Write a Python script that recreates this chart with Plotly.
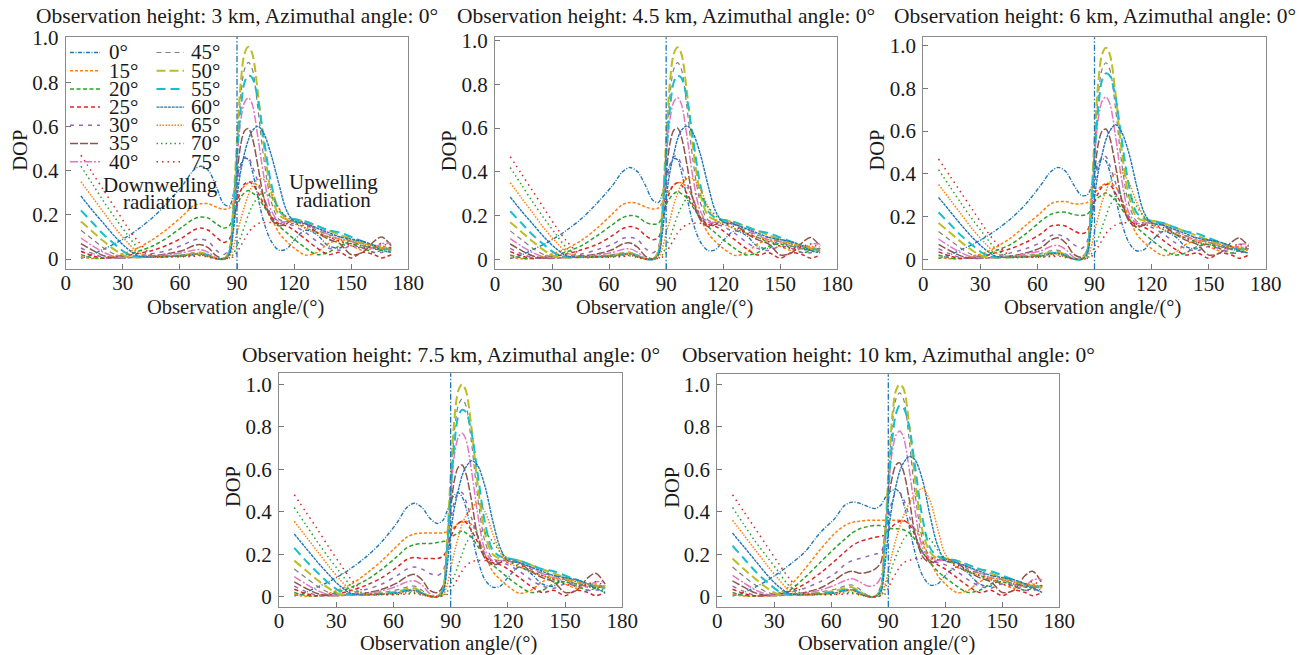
import plotly.graph_objects as go

W, H = 1303, 655
FONT = "Liberation Serif"
TXT = "#1a1a1a"

# ---------------- data ----------------
obs_angle = [8, 14, 20, 26, 32, 38, 46, 54, 62, 67, 71, 75, 79, 83, 86, 88, 90, 92, 94, 96,
             98, 101, 104, 108, 112, 116, 120, 126, 132, 138, 144, 150, 156, 162, 166, 171]

zenith_labels = ["0°", "15°", "20°", "25°", "30°", "35°", "40°",
                 "45°", "50°", "55°", "60°", "65°", "70°", "75°"]

heights = ["3", "4.5", "6", "7.5", "10"]

dop_3km = [
    [0.003,0.02,0.045,0.07,0.10,0.135,0.19,0.26,0.34,0.40,0.42,0.40,0.33,0.25,0.24,0.29,0.37,0.43,0.455,0.45,0.40,0.28,0.17,0.08,0.04,0.045,0.085,0.13,0.11,0.06,0.05,0.085,0.07,0.045,0.045,0.05],
    [0.01,0.002,0.005,0.015,0.03,0.05,0.09,0.14,0.20,0.24,0.25,0.25,0.235,0.225,0.23,0.25,0.28,0.31,0.33,0.345,0.35,0.33,0.28,0.19,0.12,0.08,0.05,0.018,0.03,0.07,0.085,0.06,0.04,0.05,0.06,0.04],
    [0.02,0.006,0.004,0.01,0.02,0.035,0.06,0.10,0.15,0.18,0.19,0.185,0.16,0.14,0.15,0.19,0.24,0.28,0.30,0.31,0.30,0.28,0.24,0.19,0.15,0.12,0.09,0.05,0.02,0.03,0.06,0.07,0.05,0.03,0.04,0.05],
    [0.035,0.015,0.004,0.008,0.015,0.025,0.04,0.065,0.10,0.13,0.14,0.13,0.10,0.075,0.09,0.16,0.25,0.31,0.34,0.35,0.34,0.30,0.25,0.19,0.16,0.15,0.13,0.09,0.05,0.02,0.03,0.005,0.03,0.02,0.005,0.02],
    [0.05,0.025,0.007,0.005,0.01,0.015,0.025,0.04,0.065,0.085,0.09,0.08,0.04,0.02,0.05,0.18,0.33,0.42,0.46,0.46,0.42,0.35,0.28,0.20,0.17,0.16,0.15,0.12,0.08,0.05,0.04,0.06,0.05,0.03,0.03,0.04],
    [0.07,0.04,0.015,0.005,0.005,0.01,0.015,0.025,0.04,0.06,0.065,0.05,0.015,0.003,0.03,0.18,0.38,0.52,0.58,0.59,0.55,0.42,0.28,0.18,0.15,0.16,0.18,0.16,0.12,0.09,0.07,0.02,0.03,0.08,0.10,0.06],
    [0.095,0.06,0.03,0.01,0.006,0.008,0.012,0.02,0.03,0.04,0.042,0.03,0.005,0.0,0.03,0.20,0.45,0.63,0.71,0.73,0.70,0.55,0.38,0.22,0.17,0.17,0.17,0.16,0.14,0.11,0.09,0.08,0.06,0.05,0.07,0.07],
    [0.13,0.09,0.05,0.02,0.008,0.006,0.01,0.015,0.02,0.028,0.03,0.02,0.002,0.0,0.04,0.22,0.50,0.74,0.86,0.89,0.86,0.68,0.46,0.26,0.18,0.17,0.17,0.16,0.13,0.11,0.10,0.08,0.06,0.05,0.05,0.05],
    [0.17,0.125,0.08,0.04,0.012,0.008,0.01,0.012,0.018,0.025,0.028,0.018,0.002,0.0,0.04,0.24,0.54,0.80,0.93,0.96,0.93,0.75,0.52,0.30,0.20,0.18,0.18,0.17,0.15,0.13,0.11,0.09,0.07,0.06,0.05,0.05],
    [0.22,0.165,0.11,0.065,0.025,0.01,0.01,0.012,0.016,0.022,0.025,0.015,0.002,0.0,0.03,0.20,0.46,0.68,0.80,0.83,0.82,0.72,0.55,0.34,0.22,0.19,0.18,0.17,0.15,0.13,0.12,0.10,0.08,0.06,0.05,0.04],
    [0.285,0.22,0.16,0.10,0.05,0.015,0.01,0.012,0.015,0.02,0.022,0.012,0.002,0.0,0.02,0.12,0.28,0.40,0.48,0.54,0.58,0.60,0.57,0.47,0.34,0.22,0.17,0.16,0.14,0.12,0.10,0.09,0.08,0.06,0.04,0.03],
    [0.35,0.28,0.21,0.14,0.08,0.03,0.01,0.012,0.015,0.02,0.022,0.012,0.002,0.0,0.01,0.05,0.12,0.18,0.24,0.29,0.33,0.36,0.36,0.31,0.23,0.18,0.16,0.14,0.12,0.10,0.09,0.08,0.07,0.06,0.05,0.04],
    [0.42,0.34,0.26,0.185,0.115,0.05,0.01,0.01,0.012,0.015,0.018,0.01,0.002,0.0,0.005,0.02,0.06,0.10,0.15,0.20,0.24,0.28,0.30,0.28,0.23,0.19,0.17,0.14,0.12,0.10,0.08,0.07,0.06,0.05,0.04,0.03],
    [0.47,0.39,0.31,0.23,0.15,0.08,0.015,0.01,0.01,0.012,0.015,0.008,0.002,0.0,0.005,0.01,0.03,0.06,0.09,0.12,0.14,0.16,0.165,0.165,0.16,0.16,0.16,0.15,0.12,0.10,0.08,0.06,0.05,0.06,0.07,0.05],
]

dop_4p5km = [
    [0.003,0.02,0.045,0.07,0.10,0.135,0.19,0.26,0.34,0.40,0.42,0.40,0.34,0.27,0.26,0.30,0.38,0.43,0.46,0.455,0.40,0.28,0.17,0.08,0.04,0.045,0.085,0.13,0.11,0.06,0.05,0.09,0.07,0.045,0.045,0.05],
    [0.01,0.002,0.005,0.015,0.03,0.05,0.09,0.145,0.21,0.25,0.26,0.255,0.24,0.23,0.235,0.26,0.29,0.32,0.34,0.35,0.35,0.33,0.28,0.19,0.12,0.08,0.05,0.018,0.03,0.07,0.085,0.06,0.04,0.05,0.06,0.04],
    [0.02,0.006,0.004,0.01,0.02,0.035,0.065,0.11,0.16,0.19,0.20,0.195,0.17,0.16,0.165,0.20,0.25,0.28,0.30,0.31,0.30,0.28,0.24,0.19,0.15,0.12,0.09,0.05,0.02,0.03,0.06,0.07,0.05,0.03,0.04,0.05],
    [0.035,0.015,0.004,0.008,0.015,0.025,0.045,0.07,0.11,0.14,0.15,0.14,0.11,0.09,0.10,0.17,0.26,0.31,0.34,0.35,0.34,0.30,0.25,0.19,0.16,0.15,0.13,0.09,0.05,0.02,0.03,0.005,0.03,0.02,0.005,0.02],
    [0.05,0.025,0.007,0.005,0.01,0.015,0.025,0.045,0.07,0.095,0.10,0.09,0.05,0.03,0.06,0.19,0.34,0.43,0.47,0.47,0.43,0.35,0.28,0.20,0.17,0.16,0.15,0.12,0.08,0.05,0.04,0.06,0.05,0.03,0.03,0.04],
    [0.07,0.04,0.015,0.005,0.005,0.01,0.015,0.025,0.045,0.07,0.075,0.055,0.015,0.003,0.03,0.19,0.39,0.53,0.59,0.60,0.56,0.43,0.28,0.18,0.15,0.16,0.18,0.16,0.12,0.09,0.07,0.02,0.03,0.08,0.10,0.06],
    [0.095,0.06,0.03,0.01,0.006,0.008,0.012,0.02,0.032,0.045,0.048,0.032,0.005,0.0,0.03,0.20,0.46,0.64,0.72,0.74,0.71,0.56,0.38,0.22,0.17,0.17,0.17,0.16,0.14,0.11,0.09,0.08,0.06,0.05,0.07,0.07],
    [0.13,0.09,0.05,0.02,0.008,0.006,0.01,0.015,0.022,0.03,0.032,0.02,0.002,0.0,0.04,0.22,0.51,0.75,0.87,0.90,0.87,0.69,0.46,0.26,0.18,0.17,0.17,0.16,0.13,0.11,0.10,0.08,0.06,0.05,0.05,0.05],
    [0.17,0.125,0.08,0.04,0.012,0.008,0.01,0.012,0.02,0.027,0.03,0.018,0.002,0.0,0.04,0.24,0.55,0.81,0.94,0.97,0.94,0.76,0.52,0.30,0.20,0.18,0.18,0.17,0.15,0.13,0.11,0.09,0.07,0.06,0.05,0.05],
    [0.22,0.165,0.11,0.065,0.025,0.01,0.01,0.012,0.016,0.024,0.027,0.015,0.002,0.0,0.03,0.20,0.47,0.69,0.81,0.84,0.83,0.73,0.56,0.34,0.22,0.19,0.18,0.17,0.15,0.13,0.12,0.10,0.08,0.06,0.05,0.04],
    [0.285,0.22,0.16,0.10,0.05,0.015,0.01,0.012,0.015,0.02,0.024,0.012,0.002,0.0,0.02,0.12,0.28,0.40,0.48,0.55,0.59,0.61,0.58,0.48,0.34,0.22,0.17,0.16,0.14,0.12,0.10,0.09,0.08,0.06,0.04,0.03],
    [0.35,0.28,0.21,0.14,0.08,0.03,0.01,0.012,0.015,0.02,0.022,0.012,0.002,0.0,0.01,0.05,0.12,0.18,0.25,0.30,0.34,0.37,0.37,0.32,0.24,0.18,0.16,0.14,0.12,0.10,0.09,0.08,0.07,0.06,0.05,0.04],
    [0.42,0.34,0.26,0.185,0.115,0.05,0.01,0.01,0.012,0.015,0.018,0.01,0.002,0.0,0.005,0.02,0.06,0.10,0.15,0.20,0.24,0.28,0.30,0.29,0.24,0.20,0.17,0.14,0.12,0.10,0.08,0.07,0.06,0.05,0.04,0.03],
    [0.47,0.39,0.31,0.23,0.15,0.08,0.015,0.01,0.01,0.012,0.015,0.008,0.002,0.0,0.005,0.01,0.03,0.06,0.09,0.12,0.14,0.16,0.165,0.165,0.16,0.16,0.16,0.15,0.12,0.10,0.08,0.06,0.05,0.06,0.07,0.05],
]

dop_6km = [
    [0.003,0.02,0.045,0.07,0.10,0.135,0.19,0.26,0.35,0.41,0.43,0.41,0.35,0.30,0.30,0.33,0.40,0.45,0.47,0.46,0.41,0.29,0.18,0.08,0.04,0.045,0.085,0.13,0.11,0.06,0.05,0.09,0.07,0.045,0.045,0.05],
    [0.01,0.002,0.005,0.015,0.03,0.055,0.10,0.16,0.22,0.26,0.27,0.27,0.26,0.26,0.265,0.28,0.31,0.33,0.345,0.355,0.355,0.34,0.29,0.20,0.12,0.08,0.05,0.018,0.03,0.07,0.085,0.06,0.04,0.05,0.06,0.04],
    [0.02,0.006,0.004,0.01,0.02,0.04,0.07,0.12,0.18,0.21,0.22,0.22,0.21,0.205,0.21,0.23,0.27,0.29,0.30,0.31,0.30,0.28,0.24,0.19,0.15,0.12,0.09,0.05,0.02,0.03,0.06,0.07,0.05,0.03,0.04,0.05],
    [0.035,0.015,0.004,0.008,0.015,0.03,0.05,0.08,0.12,0.155,0.16,0.155,0.135,0.12,0.13,0.19,0.27,0.31,0.34,0.35,0.35,0.31,0.26,0.19,0.16,0.15,0.13,0.09,0.05,0.02,0.03,0.005,0.03,0.02,0.005,0.02],
    [0.05,0.025,0.007,0.005,0.01,0.015,0.03,0.05,0.08,0.11,0.115,0.10,0.07,0.05,0.08,0.20,0.35,0.44,0.48,0.48,0.44,0.36,0.28,0.20,0.17,0.16,0.15,0.12,0.08,0.05,0.04,0.06,0.05,0.03,0.03,0.04],
    [0.07,0.04,0.015,0.005,0.005,0.01,0.015,0.03,0.055,0.09,0.10,0.075,0.025,0.01,0.04,0.20,0.40,0.54,0.60,0.61,0.57,0.44,0.29,0.18,0.15,0.16,0.18,0.16,0.12,0.09,0.07,0.02,0.03,0.08,0.10,0.06],
    [0.095,0.06,0.03,0.01,0.006,0.008,0.012,0.025,0.04,0.06,0.065,0.045,0.01,0.0,0.035,0.21,0.47,0.66,0.74,0.76,0.73,0.58,0.39,0.22,0.17,0.17,0.17,0.16,0.14,0.11,0.09,0.08,0.06,0.05,0.07,0.07],
    [0.13,0.09,0.05,0.02,0.008,0.006,0.01,0.018,0.028,0.04,0.042,0.025,0.003,0.0,0.04,0.23,0.52,0.77,0.89,0.92,0.89,0.71,0.47,0.26,0.18,0.17,0.17,0.16,0.13,0.11,0.10,0.08,0.06,0.05,0.05,0.05],
    [0.17,0.125,0.08,0.04,0.012,0.008,0.01,0.015,0.022,0.032,0.035,0.02,0.002,0.0,0.04,0.25,0.56,0.83,0.96,0.99,0.96,0.78,0.53,0.30,0.20,0.18,0.18,0.17,0.15,0.13,0.11,0.09,0.07,0.06,0.05,0.05],
    [0.22,0.165,0.11,0.065,0.025,0.01,0.01,0.013,0.018,0.028,0.03,0.017,0.002,0.0,0.03,0.21,0.48,0.71,0.84,0.87,0.86,0.76,0.58,0.35,0.22,0.19,0.18,0.17,0.15,0.13,0.12,0.10,0.08,0.06,0.05,0.04],
    [0.29,0.225,0.16,0.10,0.05,0.015,0.01,0.012,0.016,0.025,0.028,0.014,0.002,0.0,0.02,0.13,0.29,0.41,0.49,0.56,0.60,0.63,0.60,0.50,0.35,0.22,0.17,0.16,0.14,0.12,0.10,0.09,0.08,0.06,0.04,0.03],
    [0.35,0.28,0.21,0.14,0.08,0.03,0.01,0.012,0.015,0.022,0.024,0.012,0.002,0.0,0.01,0.05,0.13,0.20,0.27,0.32,0.36,0.40,0.41,0.36,0.27,0.20,0.16,0.14,0.12,0.10,0.09,0.08,0.07,0.06,0.05,0.04],
    [0.42,0.34,0.26,0.185,0.115,0.05,0.01,0.01,0.012,0.016,0.02,0.01,0.002,0.0,0.005,0.02,0.06,0.10,0.15,0.20,0.25,0.29,0.31,0.30,0.25,0.20,0.17,0.14,0.12,0.10,0.08,0.07,0.06,0.05,0.04,0.03],
    [0.47,0.39,0.31,0.23,0.15,0.08,0.015,0.01,0.01,0.012,0.015,0.008,0.002,0.0,0.005,0.01,0.03,0.06,0.09,0.12,0.14,0.16,0.17,0.17,0.165,0.16,0.16,0.15,0.12,0.10,0.08,0.06,0.05,0.06,0.07,0.05],
]

dop_7p5km = [
    [0.003,0.02,0.045,0.07,0.10,0.135,0.19,0.26,0.35,0.42,0.44,0.42,0.37,0.345,0.36,0.40,0.45,0.48,0.49,0.47,0.42,0.30,0.18,0.08,0.045,0.05,0.09,0.14,0.11,0.06,0.05,0.09,0.07,0.045,0.045,0.05],
    [0.01,0.002,0.005,0.015,0.035,0.06,0.11,0.17,0.24,0.28,0.295,0.30,0.30,0.30,0.30,0.305,0.31,0.33,0.345,0.355,0.355,0.34,0.29,0.20,0.12,0.08,0.05,0.016,0.03,0.07,0.085,0.06,0.04,0.05,0.06,0.04],
    [0.02,0.006,0.004,0.01,0.025,0.045,0.08,0.13,0.19,0.23,0.245,0.25,0.25,0.255,0.26,0.265,0.28,0.29,0.30,0.31,0.30,0.28,0.24,0.19,0.15,0.12,0.09,0.05,0.02,0.03,0.06,0.07,0.05,0.03,0.04,0.05],
    [0.035,0.015,0.004,0.008,0.015,0.03,0.055,0.09,0.14,0.175,0.185,0.18,0.18,0.18,0.19,0.22,0.28,0.32,0.345,0.355,0.35,0.31,0.26,0.19,0.16,0.15,0.13,0.09,0.05,0.02,0.03,0.005,0.03,0.02,0.005,0.02],
    [0.05,0.025,0.007,0.005,0.01,0.018,0.035,0.06,0.10,0.13,0.14,0.13,0.11,0.10,0.12,0.22,0.36,0.45,0.49,0.49,0.45,0.37,0.29,0.20,0.17,0.16,0.15,0.12,0.08,0.05,0.04,0.06,0.05,0.03,0.03,0.04],
    [0.07,0.04,0.015,0.005,0.005,0.01,0.018,0.035,0.065,0.095,0.105,0.08,0.03,0.02,0.05,0.21,0.41,0.55,0.61,0.62,0.58,0.45,0.29,0.18,0.15,0.16,0.18,0.16,0.12,0.09,0.07,0.02,0.03,0.09,0.11,0.06],
    [0.095,0.06,0.03,0.01,0.006,0.008,0.014,0.028,0.05,0.07,0.075,0.055,0.015,0.005,0.04,0.22,0.48,0.67,0.75,0.77,0.74,0.59,0.40,0.22,0.17,0.17,0.17,0.16,0.14,0.11,0.09,0.08,0.06,0.05,0.07,0.07],
    [0.13,0.09,0.05,0.02,0.008,0.006,0.01,0.02,0.032,0.045,0.05,0.03,0.003,0.0,0.04,0.23,0.53,0.78,0.90,0.93,0.90,0.72,0.48,0.26,0.18,0.17,0.17,0.16,0.13,0.11,0.10,0.08,0.06,0.05,0.05,0.05],
    [0.17,0.125,0.08,0.04,0.012,0.008,0.01,0.016,0.025,0.036,0.04,0.022,0.002,0.0,0.04,0.25,0.57,0.84,0.97,1.00,0.97,0.79,0.54,0.30,0.20,0.18,0.18,0.17,0.15,0.13,0.11,0.09,0.07,0.06,0.05,0.05],
    [0.23,0.17,0.115,0.065,0.025,0.01,0.01,0.014,0.02,0.03,0.033,0.018,0.002,0.0,0.03,0.21,0.49,0.72,0.85,0.88,0.87,0.77,0.59,0.35,0.22,0.19,0.18,0.17,0.15,0.13,0.12,0.10,0.08,0.06,0.05,0.04],
    [0.295,0.23,0.165,0.105,0.05,0.015,0.01,0.012,0.018,0.027,0.03,0.015,0.002,0.0,0.02,0.13,0.30,0.42,0.50,0.57,0.61,0.64,0.62,0.52,0.36,0.23,0.17,0.16,0.14,0.12,0.10,0.09,0.08,0.06,0.04,0.02],
    [0.355,0.285,0.215,0.145,0.08,0.03,0.01,0.012,0.015,0.024,0.026,0.012,0.002,0.0,0.01,0.05,0.13,0.21,0.28,0.34,0.38,0.42,0.44,0.40,0.30,0.21,0.16,0.14,0.12,0.10,0.09,0.08,0.07,0.06,0.05,0.04],
    [0.42,0.34,0.26,0.185,0.115,0.05,0.01,0.01,0.012,0.018,0.02,0.01,0.002,0.0,0.005,0.02,0.06,0.10,0.15,0.20,0.25,0.29,0.31,0.30,0.26,0.21,0.18,0.14,0.12,0.10,0.08,0.07,0.06,0.05,0.04,0.03],
    [0.48,0.40,0.32,0.235,0.155,0.08,0.015,0.01,0.01,0.012,0.015,0.008,0.002,0.0,0.005,0.01,0.03,0.06,0.09,0.12,0.145,0.165,0.17,0.17,0.17,0.165,0.16,0.15,0.12,0.10,0.08,0.06,0.05,0.06,0.07,0.05],
]

dop_10km = [
    [0.003,0.02,0.045,0.075,0.11,0.15,0.21,0.30,0.37,0.43,0.445,0.44,0.425,0.415,0.43,0.46,0.49,0.50,0.505,0.49,0.44,0.33,0.21,0.10,0.055,0.06,0.10,0.14,0.11,0.06,0.05,0.09,0.07,0.045,0.045,0.05],
    [0.01,0.003,0.002,0.005,0.015,0.05,0.13,0.22,0.30,0.335,0.35,0.355,0.36,0.36,0.36,0.36,0.36,0.36,0.36,0.36,0.355,0.345,0.32,0.25,0.17,0.10,0.06,0.02,0.03,0.07,0.085,0.06,0.04,0.05,0.06,0.04],
    [0.02,0.006,0.004,0.008,0.015,0.03,0.09,0.16,0.23,0.27,0.30,0.32,0.33,0.335,0.335,0.33,0.325,0.32,0.32,0.32,0.315,0.30,0.27,0.21,0.16,0.12,0.09,0.05,0.02,0.03,0.06,0.07,0.05,0.03,0.04,0.05],
    [0.035,0.015,0.004,0.006,0.012,0.025,0.06,0.11,0.17,0.21,0.24,0.26,0.27,0.28,0.285,0.29,0.31,0.33,0.345,0.355,0.36,0.34,0.29,0.21,0.17,0.15,0.13,0.09,0.05,0.02,0.03,0.005,0.03,0.02,0.005,0.02],
    [0.05,0.025,0.007,0.005,0.01,0.02,0.04,0.07,0.11,0.15,0.17,0.18,0.19,0.20,0.21,0.25,0.36,0.45,0.49,0.49,0.46,0.38,0.30,0.21,0.17,0.16,0.15,0.12,0.08,0.05,0.04,0.06,0.05,0.03,0.03,0.04],
    [0.075,0.045,0.018,0.006,0.005,0.01,0.02,0.04,0.08,0.11,0.12,0.11,0.115,0.13,0.16,0.28,0.45,0.56,0.62,0.63,0.59,0.46,0.30,0.19,0.16,0.17,0.18,0.16,0.12,0.09,0.07,0.02,0.03,0.10,0.12,0.06],
    [0.10,0.065,0.032,0.012,0.006,0.008,0.016,0.03,0.055,0.075,0.085,0.07,0.05,0.055,0.09,0.25,0.50,0.68,0.76,0.78,0.75,0.60,0.41,0.23,0.18,0.17,0.17,0.16,0.14,0.11,0.09,0.08,0.06,0.05,0.08,0.08],
    [0.14,0.095,0.055,0.022,0.008,0.006,0.012,0.022,0.035,0.05,0.055,0.035,0.008,0.003,0.05,0.25,0.55,0.80,0.93,0.96,0.93,0.74,0.49,0.27,0.19,0.18,0.17,0.16,0.13,0.11,0.10,0.08,0.06,0.05,0.05,0.05],
    [0.18,0.13,0.085,0.042,0.012,0.008,0.01,0.018,0.028,0.04,0.045,0.025,0.003,0.0,0.04,0.25,0.57,0.84,0.97,1.00,0.98,0.81,0.56,0.31,0.21,0.18,0.18,0.17,0.15,0.13,0.11,0.09,0.07,0.06,0.05,0.05],
    [0.24,0.18,0.12,0.07,0.028,0.01,0.01,0.015,0.022,0.032,0.036,0.02,0.002,0.0,0.03,0.21,0.49,0.73,0.86,0.90,0.89,0.80,0.62,0.37,0.23,0.19,0.18,0.17,0.15,0.13,0.12,0.10,0.08,0.06,0.05,0.04],
    [0.30,0.235,0.17,0.105,0.05,0.015,0.01,0.012,0.018,0.028,0.032,0.015,0.002,0.0,0.02,0.13,0.30,0.43,0.52,0.59,0.63,0.66,0.645,0.55,0.38,0.24,0.17,0.16,0.14,0.12,0.10,0.09,0.08,0.06,0.04,0.02],
    [0.36,0.29,0.22,0.15,0.085,0.03,0.01,0.012,0.015,0.025,0.028,0.012,0.002,0.0,0.01,0.05,0.12,0.20,0.27,0.33,0.38,0.44,0.48,0.51,0.45,0.32,0.20,0.14,0.12,0.10,0.09,0.08,0.07,0.06,0.05,0.04],
    [0.42,0.34,0.26,0.19,0.12,0.05,0.01,0.01,0.012,0.018,0.02,0.01,0.002,0.0,0.005,0.03,0.09,0.14,0.19,0.23,0.27,0.30,0.31,0.30,0.27,0.22,0.18,0.14,0.12,0.10,0.08,0.07,0.06,0.05,0.04,0.03],
    [0.48,0.40,0.32,0.24,0.16,0.085,0.015,0.01,0.01,0.012,0.015,0.008,0.002,0.0,0.005,0.01,0.04,0.08,0.11,0.14,0.16,0.17,0.18,0.18,0.18,0.175,0.17,0.15,0.12,0.10,0.08,0.06,0.05,0.06,0.07,0.05],
]

x_ticks = [0, 30, 60, 90, 120, 150, 180]
y_ticks = [0, 0.2, 0.4, 0.6, 0.8, 1.0]
y_ticktext = ["0", "0.2", "0.4", "0.6", "0.8", "1.0"]

# ---------------- styles ----------------
colors = ["#1f77b4", "#ff7f0e", "#2ca02c", "#d62728", "#9467bd", "#8c564b", "#e377c2",
          "#7f7f7f", "#bcbd22", "#17becf", "#1f77b4", "#ff7f0e", "#2ca02c", "#d62728"]
dashes = ["4px,1.5px,1px,1.5px", "3px,2px", "4px,2.5px", "4px,3px", "4px,5px", "8px,2px",
          "8px,2px,2px,2px", "5px,4px", "9px,4px", "9px,5px", "3px,0.8px", "1.5px,1.5px",
          "1.5px,3px", "1.5px,4px"]
widths = [1.4, 1.5, 1.5, 1.5, 1.5, 1.5, 1.5, 1.2, 2.0, 2.0, 1.4, 1.5, 1.5, 1.5]

# panel geometry in pixels: (x left, x right), (y top, y bottom), y range
panel_data = [dop_3km, dop_4p5km, dop_6km, dop_7p5km, dop_10km]
panel_px = [
    ((65.7, 408.3), (37.0, 269.0), (-0.0452, 1.0045)),
    ((495.0, 837.3), (37.3, 269.3), (-0.0457, 1.0155)),
    ((923.3, 1265.7), (37.3, 269.3), (-0.0468, 1.039)),
    ((279.0, 622.3), (373.3, 606.7), (-0.047, 1.0518)),
    ((717.3, 1059.3), (374.3, 606.7), (-0.047, 1.047)),
]
title_y_px = [16.0, 16.0, 16.0, 354.5, 354.5]
xtitle_gap = [38, 38, 38, 36.8, 36.8]


def px(xv):
    return xv / W


def py(yv):
    return 1 - yv / H


font_ax = dict(family=FONT, size=21, color=TXT)
font_axt = dict(family=FONT, size=20.5, color=TXT)

fig = go.Figure()
layout = {}
shapes = []
annotations = []

for i, (data, ((xl, xr), (yt, yb), yr)) in enumerate(zip(panel_data, panel_px)):
    n = i + 1
    xa = "x" if n == 1 else f"x{n}"
    ya = "y" if n == 1 else f"y{n}"
    for k, series in enumerate(data):
        fig.add_trace(go.Scatter(
            x=obs_angle, y=series, mode="lines", name=zenith_labels[k],
            line=dict(color=colors[k], dash=dashes[k], width=widths[k],
                      shape="spline", smoothing=0.9),
            xaxis=xa, yaxis=ya, showlegend=False, hoverinfo="skip"))
    xkey = "xaxis" if n == 1 else f"xaxis{n}"
    ykey = "yaxis" if n == 1 else f"yaxis{n}"
    layout[xkey] = dict(
        domain=[px(xl), px(xr)], range=[0, 180], anchor=ya,
        tickvals=x_ticks, ticks="inside", ticklen=5, tickcolor="#777",
        showline=True, mirror=True, linecolor="#8a8a8a", linewidth=1,
        showgrid=False, zeroline=False, tickfont=font_ax, automargin=False,
        ticklabelstandoff=-5)
    layout[ykey] = dict(
        domain=[py(yb), py(yt)], range=list(yr), anchor=xa,
        tickvals=y_ticks, ticktext=y_ticktext, ticks="inside", ticklen=5,
        tickcolor="#777", showline=True, mirror=True, linecolor="#8a8a8a",
        linewidth=1, showgrid=False, zeroline=False, tickfont=font_ax,
        automargin=False, ticklabelstandoff=2)
    # vertical separator at 90 degrees
    shapes.append(dict(type="line", xref=xa, yref=f"{ya} domain", x0=90, x1=90,
                       y0=0, y1=1, line=dict(color="#1f77b4", dash="6px,2px,1.5px,2px", width=1.3)))
    # subplot title
    annotations.append(dict(
        text=f"Observation height: {heights[i]} km, Azimuthal angle: 0°",
        x=px((xl + xr) / 2), y=py(title_y_px[i]), xref="paper", yref="paper",
        xanchor="center", yanchor="middle", showarrow=False,
        font=dict(family=FONT, size=21.5, color=TXT)))
    # axis titles
    annotations.append(dict(
        text="Observation angle/(°)", x=px((xl + xr) / 2 - 2), y=py(yb + xtitle_gap[i]),
        xref="paper", yref="paper", xanchor="center", yanchor="middle",
        showarrow=False, font=font_axt))
    annotations.append(dict(
        text="DOP", x=px(xl - 46), y=py((yt + yb) / 2 - 3), textangle=-90,
        xref="paper", yref="paper", xanchor="center", yanchor="middle",
        showarrow=False, font=font_axt))

# manual two-column legend in the first panel
leg_row0, leg_dy = 52.5, 18.2
leg_cols = [(70.0, 100.0, 107.0), (156.5, 184.0, 188.5)]
for k, lab in enumerate(zenith_labels):
    col, row = divmod(k, 7)
    x0, x1, xt = leg_cols[col]
    yy = leg_row0 + row * leg_dy
    shapes.append(dict(type="line", xref="paper", yref="paper", x0=px(x0), x1=px(x1),
                       y0=py(yy), y1=py(yy),
                       line=dict(color=colors[k], dash=dashes[k], width=widths[k])))
    annotations.append(dict(text=lab, x=px(xt), y=py(yy), xref="paper", yref="paper",
                            xanchor="left", yanchor="middle", showarrow=False,
                            font=dict(family=FONT, size=21, color=TXT)))

# region labels in the first panel
for txt, cx, cy in [("Downwelling", 160.0, 185.0), ("radiation", 160.0, 201.7),
                    ("Upwelling", 333.3, 181.7), ("radiation", 333.3, 200.0)]:
    annotations.append(dict(text=txt, x=px(cx), y=py(cy), xref="paper", yref="paper",
                            xanchor="center", yanchor="middle", showarrow=False,
                            font=dict(family=FONT, size=21, color=TXT)))

fig.update_layout(
    width=W, height=H, margin=dict(l=0, r=0, t=0, b=0),
    paper_bgcolor="white", plot_bgcolor="white",
    font=dict(family=FONT, size=21, color=TXT),
    shapes=shapes, annotations=annotations, showlegend=False,
    **layout)

fig.write_html("out.html")
